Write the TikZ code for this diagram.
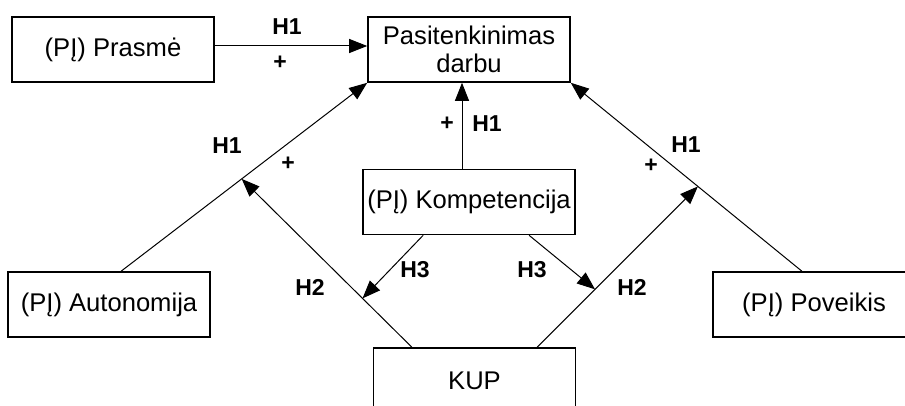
\documentclass[tikz,border=0pt]{standalone}
\usepackage{fontspec}
\setmainfont{Liberation Sans}
\usetikzlibrary{arrows.meta}
\tikzset{
  box/.style={draw,line width=0.8pt,minimum width=101pt,minimum height=32.5pt,
    inner sep=2pt,align=center,font=\fontsize{12.8}{14}\selectfont},
  lbl/.style={font=\fontsize{11.5}{13}\selectfont\bfseries},
  conn/.style={line width=0.5pt,-{Triangle[length=9pt,width=7pt]}}
}
\begin{document}
\begin{tikzpicture}[x=0.5pt,y=-0.5pt]
  \useasboundingbox (0,0) rectangle (905,406);
  \clip (0,0) rectangle (905,406);
  % boxes
  \node[box] (prasme) at (113,49.5) {(PĮ) Prasmė};
  \node[box] (pasit) at (469,49.5) {Pasitenkinimas\\darbu};
  \node[box] (komp) at (469,202) {(PĮ) Kompetencija};
  \node[box] (auton) at (109,304.5) {(PĮ) Autonomija};
  \node[box] (poveik) at (814,304.5) {(PĮ) Poveikis};
  \node[box] (kup) at (474.5,380.5) {KUP};
  % connectors
  \draw[conn] ([yshift=1.75pt]prasme.east) -- ([yshift=1.75pt]pasit.west);
  \draw[conn] ([xshift=-3.5pt]komp.north) -- ([xshift=-3.5pt]pasit.south);
  \draw[conn] (auton.70) -- coordinate[pos=0.49] (h1l) (pasit.south west);
  \draw[conn] (poveik.110) -- coordinate[pos=0.45] (h1r) (pasit.south east);
  \draw[conn] (kup.152) -- coordinate[pos=0.29] (h2l) (h1l);
  \draw[conn] (kup.28) -- coordinate[pos=0.36] (h2r) (h1r);
  \draw[conn] (komp.216) -- (h2l);
  \draw[conn] (komp.331) -- (h2r);
  % labels
  \foreach \n/\x/\y/\t in {a/287/27/H1, b/280/63/+, c/227/146/H1, d/288/164/+,
    e/447/124/+, f/487/124/H1, g/686/145/H1, h/651/166/+,
    i/415/270/H3, j/532/270/H3, k/310/287/H2, l/632/287/H2}
    \node[lbl] (lab\n) at (\x,\y) {\t};
\end{tikzpicture}
\end{document}
